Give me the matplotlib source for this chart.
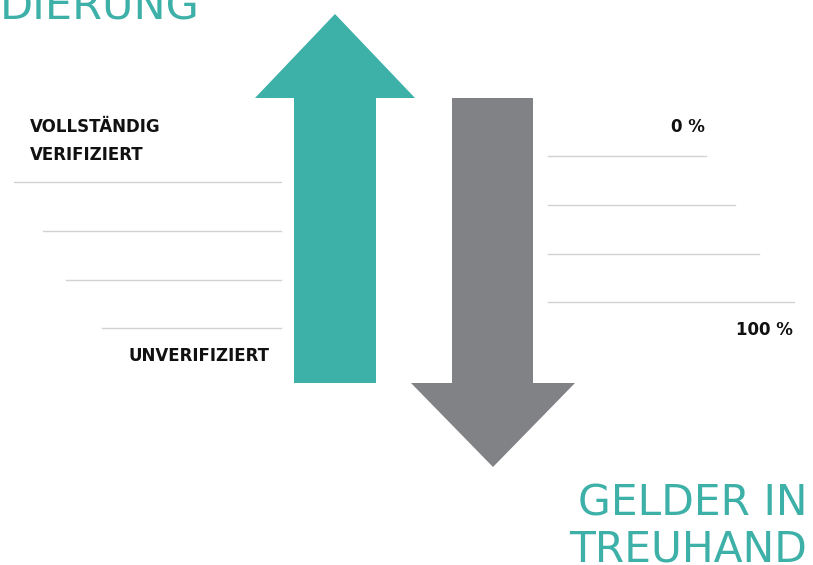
import matplotlib.pyplot as plt
from matplotlib.patches import Polygon

# labels
title_top = "DIERUNG"
title_bottom = "GELDER IN\nTREUHAND"
left_labels = ["VOLLSTÄNDIG\nVERIFIZIERT", "UNVERIFIZIERT"]
right_labels = ["0 %", "100 %"]

teal = "#3db0a8"
grey = "#818285"
line_col = "#d2d2d2"

fig = plt.figure(figsize=(8.13, 5.65), dpi=100)
ax = fig.add_axes([0, 0, 1, 1])
ax.set_xlim(0, 813)
ax.set_ylim(565, 0)
ax.axis("off")

# up arrow
up = [(294, 383), (294, 98), (255, 98), (335, 14), (415, 98), (376, 98), (376, 383)]
ax.add_patch(Polygon(up, closed=True, color=teal, lw=0))

# down arrow
down = [(452, 98), (533, 98), (533, 383), (575, 383), (493, 467), (411, 383), (452, 383)]
ax.add_patch(Polygon(down, closed=True, color=grey, lw=0))

# scale lines left
left_y = [182, 231, 280, 328]
left_x0 = [14, 43, 66, 102]
for y, x0 in zip(left_y, left_x0):
    ax.plot([x0, 281], [y, y], color=line_col, lw=1)

# scale lines right
right_y = [156, 205, 254, 302]
right_x1 = [706, 735, 759, 794]
for y, x1 in zip(right_y, right_x1):
    ax.plot([548, x1], [y, y], color=line_col, lw=1)

ax.text(30, 141, left_labels[0], ha="left", va="center", fontsize=12,
        fontweight="bold", color="#111111", linespacing=1.65)
ax.text(269, 356, left_labels[1], ha="right", va="center", fontsize=12,
        fontweight="bold", color="#111111")
ax.text(705, 127, right_labels[0], ha="right", va="center", fontsize=12,
        fontweight="bold", color="#111111")
ax.text(793, 330, right_labels[1], ha="right", va="center", fontsize=12,
        fontweight="bold", color="#111111")

ax.text(0, 19, title_top, ha="left", va="baseline", fontsize=31, color=teal)
ax.text(807, 562, title_bottom, ha="right", va="baseline", fontsize=30.5,
        color=teal, linespacing=1.15)

plt.savefig("out.png", dpi=100)
